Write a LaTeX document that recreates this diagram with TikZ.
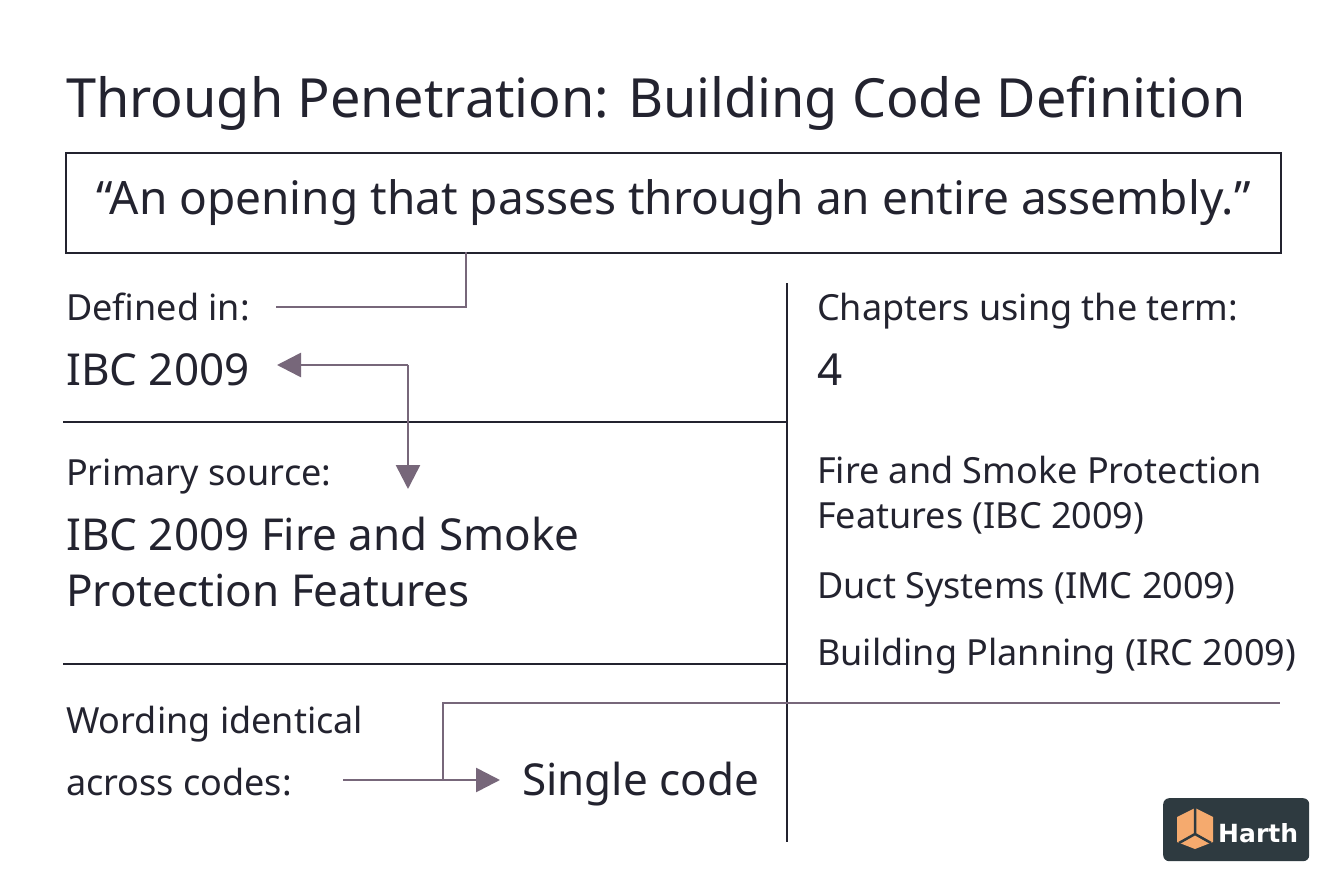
\documentclass[tikz,border=0pt]{standalone}
\usepackage{fontspec}
\setmainfont{Noto Sans}
\newfontfamily\brandfont{DejaVu Sans}
\usetikzlibrary{arrows.meta}
\definecolor{ink}{HTML}{23232F}
\definecolor{conn}{HTML}{77677A}
\definecolor{logo}{HTML}{2E3A40}
\definecolor{cube}{HTML}{F5AA6E}
\begin{document}
\begin{tikzpicture}[x=1pt,y=-1pt,
  lbl/.style={anchor=base west,inner sep=0pt,text=ink,font=\fontsize{36}{40}\selectfont},
  big/.style={anchor=base west,inner sep=0pt,text=ink,font=\fontsize{44}{48}\selectfont},
  rule/.style={draw=ink,line width=2pt},
  cn/.style={draw=conn,line width=2.6pt},
  tip/.style={-{Triangle[length=24pt,width=24pt]}}]
\useasboundingbox[fill=white] (0,0) rectangle (1344,896);
\node[anchor=base west,inner sep=0pt,text=ink,font=\fontsize{54}{60}\selectfont] (title) at (66,118) {Through Penetration: Building Code Definition};
\node[draw=ink,line width=2pt,minimum width=1215pt,minimum height=100pt,anchor=north west,text=ink,font=\fontsize{46}{50}\selectfont] (quote) at (65,152) {“An opening that passes through an entire assembly.”};
\draw[rule] (787,283) coordinate (vt) -- (787,842) coordinate (vb);
\draw[rule] (63,422) coordinate (h1a) -- (787,422) coordinate (h1b);
\draw[rule] (63,664) coordinate (h2a) -- (787,664) coordinate (h2b);
\node[lbl] (def) at (66,320) {Defined in:};
\node[big] (ibc) at (66,385) {IBC 2009};
\node[lbl] (prim) at (66,485) {Primary source:};
\node[big] (src1) at (66,550) {IBC 2009 Fire and Smoke};
\node[big] (src2) at (66,606) {Protection Features};
\node[lbl] (word1) at (66,733) {Wording identical};
\node[lbl] (word2) at (66,795) {across codes:};
\node[big] (single) at (522,795) {Single code};
\node[lbl] (chap) at (817,320) {Chapters using the term:};
\node[big] (four) at (817,385) {4};
\node[lbl] (c1a) at (817,483) {Fire and Smoke Protection};
\node[lbl] (c1b) at (817,528) {Features (IBC 2009)};
\node[lbl] (c2) at (817,598) {Duct Systems (IMC 2009)};
\node[lbl] (c3) at (817,665) {Building Planning (IRC 2009)};
% connectors
\coordinate (q1) at (466,252);
\coordinate (d1) at (276,307);
\draw[cn] (q1) |- (d1);
\coordinate (k) at (408,365);
\coordinate (ibctip) at (277,365);
\coordinate (primtip) at (408,489);
\draw[cn,tip] (k) -- (ibctip);
\draw[cn,tip] (k) -- (primtip);
\coordinate (a0) at (343,780);
\coordinate (a1) at (500,780);
\coordinate (j) at (443,780);
\coordinate (r) at (1280,703);
\draw[cn,tip] (a0) -- (a1);
\draw[cn] (j) |- (r);
% logo
\node[fill=logo,rounded corners=6pt,minimum width=146pt,minimum height=63pt,anchor=north west] (lg) at (1163,798) {};
\fill[cube] (1195,808) -- (1213,817) -- (1213,842) -- (1195,849) -- (1177,842) -- (1177,817) -- cycle;
\draw[logo,line width=2.5pt] (1195,808) -- (1195,834) -- (1179,843) (1195,834) -- (1211,843);
\node[anchor=base west,inner sep=0pt,text=white,font=\brandfont\fontsize{25}{30}\selectfont\bfseries] (brand) at (1218,842) {Harth};
\end{tikzpicture}
\end{document}
